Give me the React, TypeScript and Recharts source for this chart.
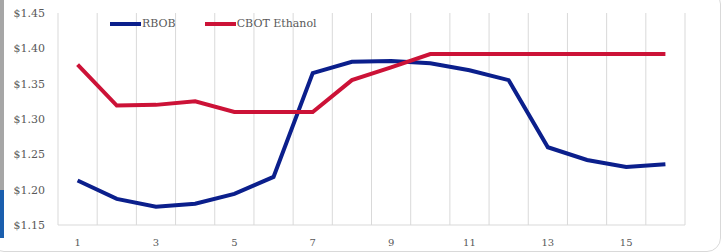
import React from "react";
import { LineChart, Line, XAxis, YAxis, CartesianGrid } from "recharts";

const periods = [1, 2, 3, 4, 5, 6, 7, 8, 9, 10, 11, 12, 13, 14, 15, 16];
const rbob = [1.213, 1.187, 1.176, 1.18, 1.194, 1.218, 1.365, 1.381, 1.382, 1.379, 1.369, 1.355, 1.26, 1.242, 1.232, 1.236];
const ethanol = [1.377, 1.319, 1.32, 1.325, 1.31, 1.31, 1.31, 1.355, 1.373, 1.392, 1.392, 1.392, 1.392, 1.392, 1.392, 1.392];
const xTicks = [1, 3, 5, 7, 9, 11, 13, 15];
const yTicks = [1.15, 1.2, 1.25, 1.3, 1.35, 1.4, 1.45];
const gridTicks = [0.5, 1.5, 2.5, 3.5, 4.5, 5.5, 6.5, 7.5, 8.5, 9.5, 10.5, 11.5, 12.5, 13.5, 14.5, 15.5, 16.5];
const seriesNames = ["RBOB", "CBOT Ethanol"];

const data = periods.map((p, i) => ({ x: p, rbob: rbob[i], ethanol: ethanol[i] }));

const FONT = "'DejaVu Serif', serif";
const TXT = "#595959";
const BLUE = "#0b1f8c";
const RED = "#cc1237";

export default function App() {
  return (
    <div style={{ position: "absolute", left: 0, top: 0, width: 721, height: 252, background: "#fff", overflow: "hidden" }}>
      <div style={{ position: "absolute", left: -10, top: -10, width: 729, height: 260, border: "1px solid #d9d9d9", borderRadius: 14 }} />
      <div style={{ position: "absolute", left: 0, top: 0, width: 4, height: 190, background: "#a6a6a6" }} />
      <div style={{ position: "absolute", left: 0, top: 190, width: 4, height: 48, background: "#1b5fae" }} />
      <div style={{ position: "absolute", left: 0, top: 0 }}>
        <LineChart width={721} height={252} data={data} margin={{ top: 13, right: 36, bottom: 0, left: 0 }}>
          <CartesianGrid xAxisId="grid" horizontal={false} vertical={true} stroke="#d9d9d9" />
          <XAxis xAxisId="grid" type="number" dataKey="x" domain={[0.5, 16.5]} ticks={gridTicks} hide />
          <XAxis
            type="number"
            dataKey="x"
            domain={[0.5, 16.5]}
            ticks={xTicks}
            interval={0}
            height={27}
            tickLine={false}
            axisLine={{ stroke: "#d9d9d9" }}
            tick={{ fill: TXT, fontSize: 10, fontFamily: FONT }}
            tickMargin={8}
          />
          <YAxis
            domain={[1.15, 1.45]}
            ticks={yTicks}
            width={58}
            tickLine={false}
            axisLine={false}
            tickSize={0}
            tickMargin={13}
            tickFormatter={(v: number) => `$${v.toFixed(2)}`}
            tick={{ fill: TXT, fontSize: 11, fontFamily: FONT }}
          />
          <Line type="linear" dataKey="rbob" name={seriesNames[0]} stroke={BLUE} strokeWidth={4} dot={false} isAnimationActive={false} />
          <Line type="linear" dataKey="ethanol" name={seriesNames[1]} stroke={RED} strokeWidth={4} dot={false} isAnimationActive={false} />
        </LineChart>
      </div>
      <div style={{ position: "absolute", left: 110, top: 16, display: "flex", alignItems: "center", fontFamily: FONT, fontSize: 11, color: TXT, lineHeight: "16px" }}>
        <span style={{ display: "inline-block", width: 31, height: 4, background: BLUE, marginRight: 1 }} />
        <span style={{ marginRight: 29 }}>{seriesNames[0]}</span>
        <span style={{ display: "inline-block", width: 31, height: 4, background: RED, marginRight: 1 }} />
        <span>{seriesNames[1]}</span>
      </div>
    </div>
  );
}
